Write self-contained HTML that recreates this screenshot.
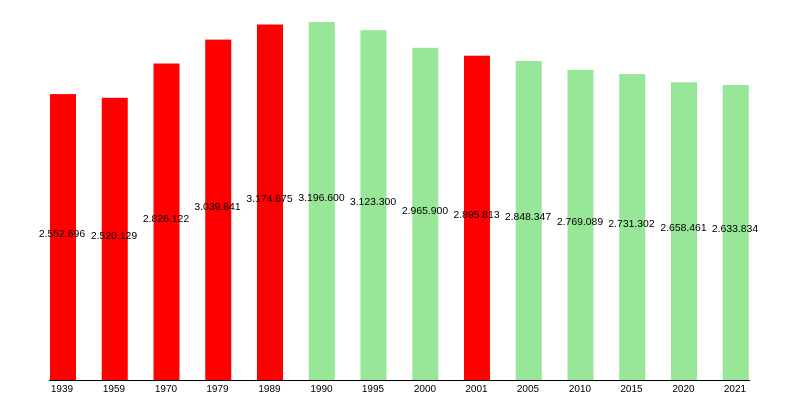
<!DOCTYPE html>
<html><head><meta charset="utf-8"><style>
html,body{margin:0;padding:0;background:#fff;}
svg{display:block;font-family:"Liberation Sans",sans-serif;}
</style></head><body>
<svg width="800" height="400" viewBox="0 0 800 400">
<g>
<rect x="50" y="94.1" width="26" height="285.9" fill="#ff0000"/>
<rect x="101.75" y="97.8" width="26" height="282.2" fill="#ff0000"/>
<rect x="153.5" y="63.5" width="26" height="316.5" fill="#ff0000"/>
<rect x="205.25" y="39.6" width="26" height="340.4" fill="#ff0000"/>
<rect x="257" y="24.5" width="26" height="355.5" fill="#ff0000"/>
<rect x="308.75" y="22" width="26" height="358" fill="#98e698"/>
<rect x="360.5" y="30.2" width="26" height="349.8" fill="#98e698"/>
<rect x="412.25" y="47.8" width="26" height="332.2" fill="#98e698"/>
<rect x="464" y="55.7" width="26" height="324.3" fill="#ff0000"/>
<rect x="515.75" y="61" width="26" height="319" fill="#98e698"/>
<rect x="567.5" y="69.9" width="26" height="310.1" fill="#98e698"/>
<rect x="619.25" y="74.1" width="26" height="305.9" fill="#98e698"/>
<rect x="671" y="82.3" width="26" height="297.7" fill="#98e698"/>
<rect x="722.75" y="85" width="26" height="295" fill="#98e698"/>
</g>
<line x1="49" y1="380.5" x2="750" y2="380.5" stroke="#000" stroke-width="1"/>
<g font-size="10.4" text-anchor="middle" fill="#000">
<text x="62" y="237">2.552.696</text>
<text x="114" y="239">2.520.129</text>
<text x="166" y="222">2.826.122</text>
<text x="217.5" y="210">3.039.841</text>
<text x="269.5" y="202">3.174.675</text>
<text x="321.5" y="201">3.196.600</text>
<text x="373" y="205">3.123.300</text>
<text x="425" y="214">2.965.900</text>
<text x="476.5" y="218">2.895.813</text>
<text x="528" y="220">2.848.347</text>
<text x="580" y="225">2.769.089</text>
<text x="631.5" y="227">2.731.302</text>
<text x="683.5" y="231">2.658.461</text>
<text x="735" y="232">2.633.834</text>
</g>
<g font-size="10" text-anchor="middle" fill="#000">
<text x="62" y="392">1939</text>
<text x="114" y="392">1959</text>
<text x="166" y="392">1970</text>
<text x="217.5" y="392">1979</text>
<text x="269.5" y="392">1989</text>
<text x="321.5" y="392">1990</text>
<text x="373" y="392">1995</text>
<text x="425" y="392">2000</text>
<text x="476.5" y="392">2001</text>
<text x="528" y="392">2005</text>
<text x="580" y="392">2010</text>
<text x="631.5" y="392">2015</text>
<text x="683.5" y="392">2020</text>
<text x="735" y="392">2021</text>
</g>
</svg>
</body></html>
